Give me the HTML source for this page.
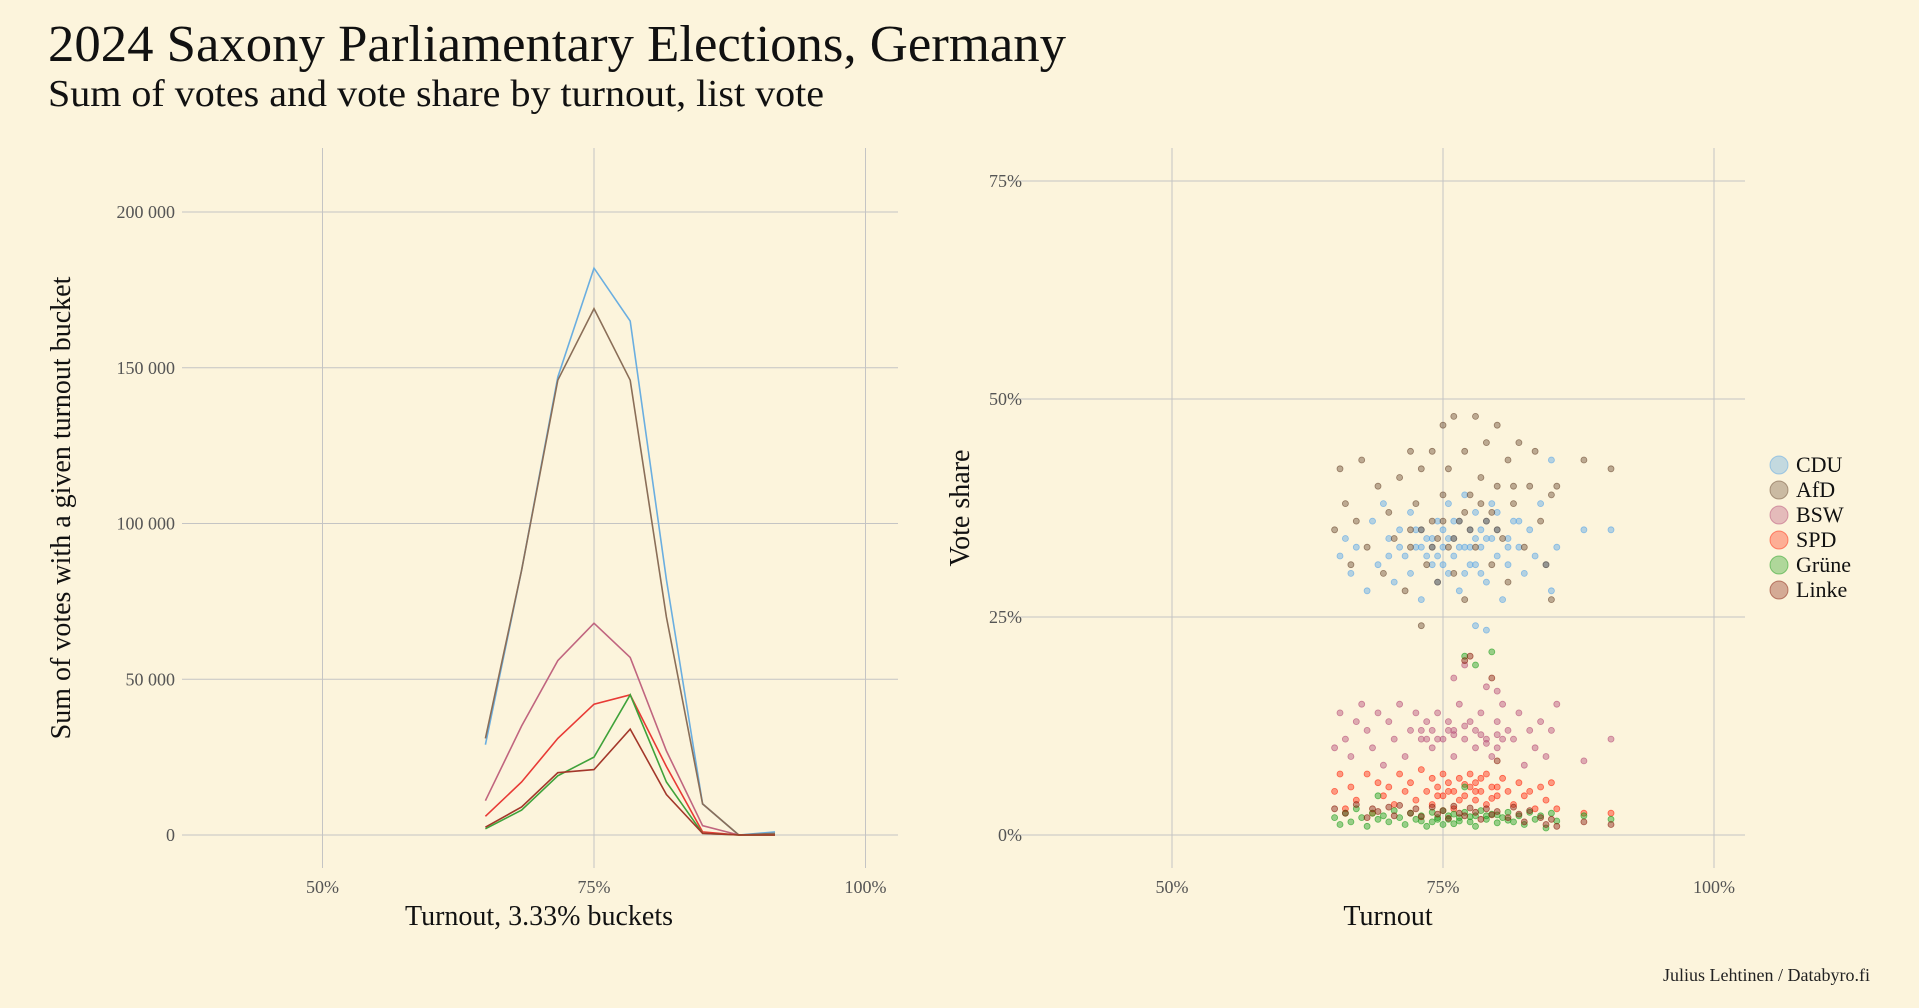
<!DOCTYPE html>
<html><head><meta charset="utf-8"><style>
html,body{margin:0;padding:0;background:#fcf4dc;}
svg{display:block;font-family:"Liberation Serif",serif;}
</style></head><body>
<svg id="chart" width="1919" height="1008" viewBox="0 0 1919 1008">
<rect width="1919" height="1008" fill="#fcf4dc"/>
<text x="48" y="61" font-size="52" fill="#111" textLength="1018" lengthAdjust="spacingAndGlyphs">2024 Saxony Parliamentary Elections, Germany</text>
<text x="48" y="106" font-size="38" fill="#111" textLength="776" lengthAdjust="spacingAndGlyphs">Sum of votes and vote share by turnout, list vote</text>
<g id="left"></g>
<g id="right"></g>
<text x="1870" y="981" font-size="18" fill="#222" text-anchor="end">Julius Lehtinen / Databyro.fi</text>
</svg>
<script>
const NS="http://www.w3.org/2000/svg";
const parties=["CDU","AfD","BSW","SPD","Grüne","Linke"];
const lineColors=["#6aaee0","#8a6e58","#c0657f","#e83a35","#3fa23a","#a3372a"];
const fillColors=["#5aa6e6","#6e4e36","#b8507a","#ff2a10","#20a020","#8a2010"];
const buckets=[65,68.33,71.67,75,78.33,81.67,85,88.33,91.67];
const sumCDU=[29000,85000,147000,182000,165000,82000,10000,0,1000];
const sumAfD=[31000,85000,146000,169000,146000,70000,10000,0,500];
const sumBSW=[11000,35000,56000,68000,57000,27000,3000,0,0];
const sumSPD=[6000,17000,31000,42000,45000,22000,1000,0,0];
const sumGrune=[2000,8000,19000,25000,45000,17000,500,0,0];
const sumLinke=[2500,9000,20000,21000,34000,13000,500,0,0];
const yTicksLeft=[0,50000,100000,150000,200000];
const yTickLabelsLeft=["0","50 000","100 000","150 000","200 000"];
const xTicks=[50,75,100];
const xTickLabels=["50%","75%","100%"];
const yTicksRight=[0,25,50,75];
const yTickLabelsRight=["0%","25%","50%","75%"];
const ptCDU=[[65.5,32],[66,34],[66.5,30],[67,33],[68,28],[68.5,36],[69,31],[69.5,38],[70,34],[70.5,29],[71,35],[71.5,32],[72,37],[72,30],[72.5,33],[73,35],[73,27],[73.5,32],[74,34],[74,31],[74.5,36],[74.5,29],[75,33],[75,35],[75.5,30],[75.5,38],[76,34],[76,32],[76.5,36],[76.5,28],[77,33],[77,39],[77.5,31],[77.5,35],[78,34],[78,37],[78.5,30],[78.5,33],[79,36],[79,29],[79.5,34],[79.5,38],[80,32],[80,35],[80.5,27],[81,34],[81,31],[81.5,36],[82,33],[82.5,30],[83,35],[83.5,32],[84,38],[84.5,31],[85,43],[85,28],[85.5,33],[88,35],[90.5,35],[78,24],[79,23.5],[73.5,34],[76.5,33],[78.5,35],[74,33],[77,30],[72.5,35],[73,33],[74.5,32],[75.5,34],[76,36],[77.5,33],[78,31],[79,34],[80,37],[81,33],[82,36],[70,32],[71,33],[75,31]];
const ptAfD=[[65,35],[65.5,42],[66,38],[66.5,31],[67,36],[67.5,43],[68,33],[69,40],[69.5,30],[70,37],[70.5,34],[71,41],[71.5,28],[72,44],[72,33],[72.5,38],[73,24],[73,42],[73.5,31],[74,36],[74,44],[74.5,29],[75,47],[75,39],[75.5,33],[75.5,42],[76,30],[76,48],[76.5,36],[77,44],[77,27],[77.5,39],[78,48],[78,33],[78.5,41],[79,36],[79,45],[79.5,31],[80,40],[80,47],[80.5,34],[81,43],[81,29],[81.5,38],[82,45],[82.5,33],[83,40],[83.5,44],[84,36],[84.5,31],[85,39],[85,27],[85.5,40],[88,43],[90.5,42],[74.5,34],[77.5,35],[79.5,37],[73,35],[74,33],[76,34],[77,37],[78.5,38],[80,35],[81.5,40],[75,36],[72,35]];
const ptBSW=[[65,10],[65.5,14],[66,11],[66.5,9],[67,13],[67.5,15],[68,12],[68.5,10],[69,14],[69.5,8],[70,13],[70.5,11],[71,15],[71.5,9],[72,12],[72.5,14],[73,11],[73.5,13],[74,10],[74,12],[74.5,14],[75,11],[75.5,13],[76,9],[76,12],[76.5,15],[77,11],[77.5,13],[78,10],[78,12],[78.5,14],[79,11],[79.5,9],[80,13],[80,10],[80.5,15],[81,12],[81.5,11],[82,14],[82.5,8],[83,12],[83.5,10],[84,13],[84.5,9],[85,12],[85.5,15],[88,8.5],[90.5,11],[76,18],[77,19.5],[79,17],[80,16.5],[73,12],[78.5,11.5],[80.5,11],[74.5,11],[76,11.5],[77,12.5],[79,10.5],[80,11.5],[73.5,11],[75.5,12]];
const ptSPD=[[65,5],[65.5,7],[66,3],[66.5,5.5],[67,4],[68,7],[68.5,2.5],[69,6],[69.5,4.5],[70,5.5],[70.5,3.5],[71,7],[71.5,5],[72,6],[72.5,4],[73,7.5],[73.5,5],[74,6.5],[74,3.5],[74.5,5.5],[75,7],[75,4.5],[75.5,6],[76,5],[76,3],[76.5,6.5],[77,4.5],[77.5,7],[77.5,5.5],[78,4],[78,6],[78.5,5],[79,7],[79,3.5],[79.5,5.5],[80,4.5],[80.5,6.5],[81,5],[81.5,3.5],[82,6],[82.5,4.5],[83,5],[83.5,3],[84,5.5],[84.5,4],[85,6],[85.5,3],[88,2.5],[90.5,2.5],[76.5,4],[78.5,6.5],[74.5,4.5],[75.5,5],[77,5.8],[78,5],[79.5,4.2],[80,5.5]];
const ptGrune=[[65,2],[65.5,1.2],[66,2.5],[66.5,1.5],[67,3],[67.5,2],[68,1],[68.5,2.5],[69,1.8],[69.5,2.2],[70,1.5],[70.5,2.8],[71,2],[71.5,1.2],[72,2.5],[72.5,1.8],[73,2.2],[73.5,1],[74,2.6],[74,1.5],[74.5,2],[75,1.2],[75,2.8],[75.5,1.8],[76,2.4],[76,1.3],[76.5,2],[77,2.6],[77.5,1.5],[78,2.2],[78,1],[78.5,2.8],[79,1.8],[79.5,2.4],[80,1.4],[80.5,2],[81,2.6],[81.5,1.5],[82,2.2],[82.5,1.2],[83,2.6],[83.5,1.8],[84,2.2],[84.5,0.8],[85,2.5],[85.5,1.6],[88,2.2],[90.5,1.8],[78,19.5],[77,20.5],[79.5,21],[69,4.5],[77,5.5],[74.5,1.8],[76.5,1.6],[79,2.2],[73,1.6],[75.5,2.2],[77.5,2.1],[80,2.3],[81,1.7]];
const ptLinke=[[65,3],[66,2.5],[67,3.5],[68,2],[68.5,3],[69,2.7],[70,3.2],[70.5,2.2],[71,3.4],[72,2.5],[72.5,3],[73,2.1],[74,3.2],[74.5,2.4],[75,2.8],[75.5,1.9],[76,3.3],[76.5,2.5],[77,2.2],[77.5,3.1],[78,2.6],[78.5,1.8],[79,3],[79.5,2.3],[80,2.7],[81,2],[81.5,3.2],[82,2.4],[82.5,1.5],[83,2.8],[84,2],[84.5,1.2],[85,1.8],[85.5,1],[88,1.5],[90.5,1.2],[77,20],[77.5,20.5],[79.5,18],[80,8.5]];

function el(tag,attrs,parent,txt){const e=document.createElementNS(NS,tag);for(const k in attrs)e.setAttribute(k,attrs[k]);if(txt!==undefined)e.textContent=txt;parent.appendChild(e);return e;}

// LEFT PANEL
const L=document.getElementById('left');
const lx=t=>594+(t-75)*10.86;
const ly=v=>835-v*(623/200000);
xTicks.forEach((t,i)=>{
  const g=el('line',{x1:lx(t),x2:lx(t),y1:148,y2:868,stroke:'#c4c4c4','stroke-width':1},L);
  
  
  const tx=el('text',{x:lx(t),y:893,'font-size':18,fill:'#555','text-anchor':'middle'},L,xTickLabels[i]);
  
  
});
yTicksLeft.forEach((v,i)=>{
  const g=el('line',{x1:182,x2:898,y1:ly(v),y2:ly(v),stroke:'#c4c4c4','stroke-width':1},L);
  
  
  const tx=el('text',{x:175,y:ly(v)+6,'font-size':18,fill:'#555','text-anchor':'end'},L,yTickLabelsLeft[i]);
  
  
});
const sums=[sumCDU,sumAfD,sumBSW,sumSPD,sumGrune,sumLinke];
sums.forEach((s,pi)=>{
  const d=s.map((v,i)=>(i?'L':'M')+lx(buckets[i]).toFixed(1)+','+ly(v).toFixed(1)).join('');
  const p=el('path',{d:d,fill:'none',stroke:lineColors[pi],'stroke-width':1.6},L);
  
  
});
const lxt=el('text',{x:539,y:925,'font-size':28,fill:'#111','text-anchor':'middle'},L,'Turnout, 3.33% buckets');


const lyt=el('text',{x:0,y:0,'font-size':28,fill:'#111','text-anchor':'middle',transform:'translate(70,508) rotate(-90)'},L,'Sum of votes with a given turnout bucket');



// RIGHT PANEL
const R=document.getElementById('right');
const rx=t=>1443+(t-75)*10.84;
const ry=v=>835-v*(218/25);
xTicks.forEach((t,i)=>{
  const g=el('line',{x1:rx(t),x2:rx(t),y1:148,y2:868,stroke:'#c4c4c4','stroke-width':1},R);
  
  
  const tx=el('text',{x:rx(t),y:893,'font-size':18,fill:'#555','text-anchor':'middle'},R,xTickLabels[i]);
  
  
});
yTicksRight.forEach((v,i)=>{
  const g=el('line',{x1:1009,x2:1745,y1:ry(v),y2:ry(v),stroke:'#c4c4c4','stroke-width':1},R);
  
  
  const tx=el('text',{x:1022,y:ry(v)+6,'font-size':18,fill:'#555','text-anchor':'end'},R,yTickLabelsRight[i]);
  
  
});
const pts=[ptCDU,ptAfD,ptBSW,ptSPD,ptGrune,ptLinke];
pts.forEach((arr,pi)=>{
  arr.forEach(p=>{
    const c=el('circle',{cx:rx(p[0]).toFixed(1),cy:ry(p[1]).toFixed(1),r:3,fill:fillColors[pi],'fill-opacity':0.45,stroke:fillColors[pi],'stroke-opacity':0.65,'stroke-width':0.8},R);
    
    
  });
});
const rxt=el('text',{x:1388,y:925,'font-size':28,fill:'#111','text-anchor':'middle'},R,'Turnout');


const ryt=el('text',{x:0,y:0,'font-size':28,fill:'#111','text-anchor':'middle',transform:'translate(969,508) rotate(-90)'},R,'Vote share');


parties.forEach((p,i)=>{
  const y=465+i*25;
  const c=el('circle',{cx:1779,cy:y,r:9,fill:fillColors[i],'fill-opacity':0.35,stroke:fillColors[i],'stroke-opacity':0.5},R);
  
  
  const t=el('text',{x:1796,y:y+7,'font-size':22,fill:'#111'},R,p);
  
  
});
</script>
</body></html>
